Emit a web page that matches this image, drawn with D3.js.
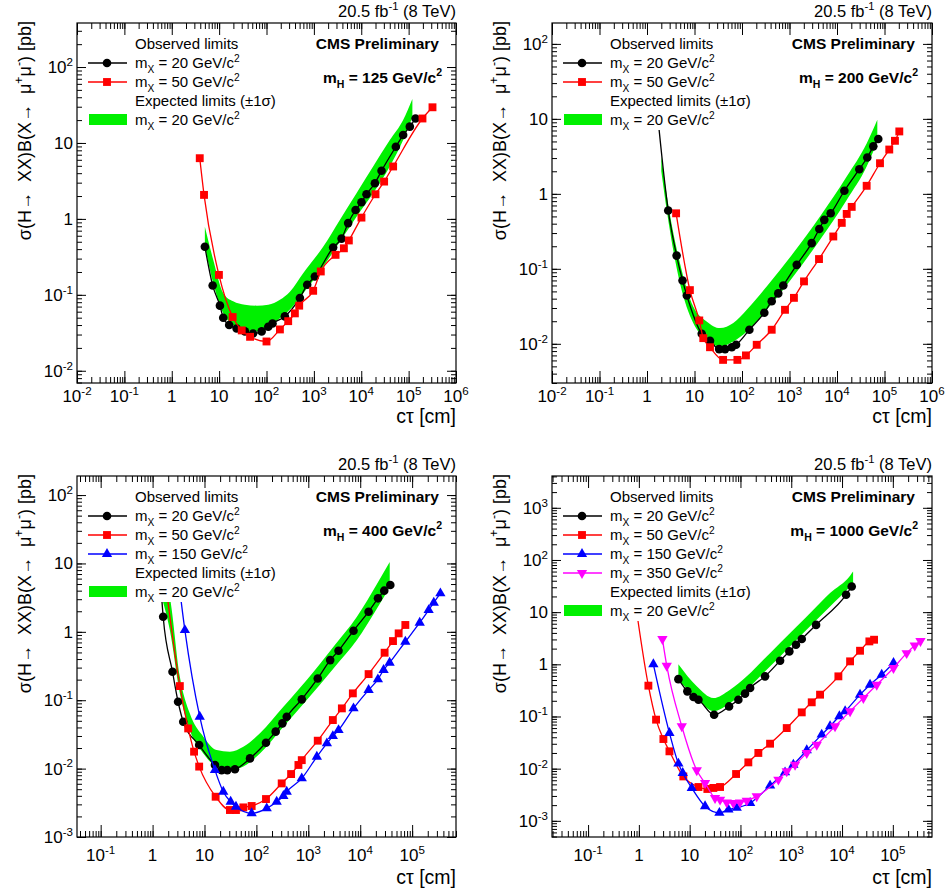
<!DOCTYPE html>
<html>
<head>
<meta charset="utf-8">
<script src="https://cdn.jsdelivr.net/npm/d3@7"></script>
<style>
body { margin: 0; background: #fff; }
svg { display: block; }
text { font-family: "Liberation Sans", Arial, Helvetica, sans-serif; fill: #000; white-space: pre; }
</style>
</head>
<body>
<div id="chart"></div>
<script>
// ---- data (ctau in cm, limit in pb) ----
// mH = 125
var h125m20X = [5.0, 7.3, 10.4, 12.2, 16.3, 23.4, 35, 52, 79, 109, 134, 244, 507, 723, 1050, 2550, 3840, 5290, 7590, 10100, 12900, 19400, 26800, 53700, 76600, 106000, 140000];
var h125m20Y = [0.43, 0.133, 0.072, 0.050, 0.040, 0.036, 0.033, 0.031, 0.033, 0.038, 0.042, 0.052, 0.091, 0.136, 0.174, 0.42, 0.55, 0.88, 1.31, 1.66, 2.11, 2.95, 4.3, 8.9, 12.7, 16.4, 21];
var h125m50X = [3.9, 4.8, 9.9, 19.3, 30, 45, 100, 192, 287, 397, 490, 966, 1400, 2870, 4300, 5470, 10100, 20000, 30400, 47100, 196000, 319000];
var h125m50Y = [6.3, 2.07, 0.183, 0.051, 0.034, 0.028, 0.0243, 0.035, 0.045, 0.057, 0.072, 0.113, 0.203, 0.336, 0.41, 0.52, 1.04, 2.11, 3.1, 4.9, 21, 29.5];
var h125BandX = [5.0, 7.5, 12.2, 19.8, 35, 62, 109, 192, 312, 594, 1570, 3530, 7940, 17800, 40100, 76600, 120000];
var h125BandHi = [0.79, 0.29, 0.105, 0.082, 0.074, 0.072, 0.074, 0.086, 0.110, 0.193, 0.43, 0.97, 2.18, 4.9, 10.9, 20.1, 38];
var h125BandLo = [0.43, 0.143, 0.057, 0.040, 0.033, 0.033, 0.038, 0.049, 0.064, 0.105, 0.235, 0.50, 1.07, 2.18, 4.9, 10.9, 22];

// mH = 200
var h200m20X = [1.6, 2.8, 4.2, 5.6, 6.9, 14.2, 21.2, 33, 44, 61, 75, 143, 295, 422, 580, 740, 1420, 2930, 4240, 5400, 7360, 14300, 29500, 43400, 58100, 74000];
var h200m20Y = [15, 0.60, 0.150, 0.070, 0.044, 0.0136, 0.011, 0.0085, 0.0085, 0.0090, 0.0097, 0.0154, 0.026, 0.037, 0.047, 0.060, 0.113, 0.22, 0.34, 0.45, 0.55, 1.10, 2.13, 3.05, 4.3, 5.4];
var h200m50X = [4.1, 8.0, 12.6, 15.3, 21.2, 40, 80, 121, 204, 422, 804, 1240, 2020, 4180, 8360, 12600, 16000, 20400, 42100, 80400, 126000, 166000, 205000];
var h200m50Y = [0.55, 0.052, 0.0205, 0.0119, 0.0090, 0.0061, 0.0061, 0.0070, 0.0097, 0.0154, 0.0284, 0.041, 0.068, 0.135, 0.27, 0.41, 0.54, 0.67, 1.28, 2.56, 3.9, 5.1, 6.8];
var h200BandX = [2.0, 2.6, 4.95, 9.4, 18, 34.4, 65.6, 126, 331, 1200, 4390, 16000, 42100, 70600];
var h200BandHi = [3.2, 0.97, 0.119, 0.0315, 0.0199, 0.0162, 0.0189, 0.0284, 0.058, 0.162, 0.50, 1.70, 4.7, 9.7];
var h200BandLo = [2.0, 0.61, 0.064, 0.0189, 0.0113, 0.0092, 0.0107, 0.0146, 0.0284, 0.079, 0.244, 0.83, 2.31, 5.0];

// mH = 400
var h400m20X = [1.35, 1.6, 2.42, 3.1, 3.9, 7.9, 15.9, 21.4, 27.5, 38.6, 75.3, 153, 235, 317, 384, 748, 1520, 2640, 3820, 7430, 14500, 22000, 29000, 38000];
var h400m20Y = [10, 1.66, 0.261, 0.095, 0.0485, 0.0221, 0.0113, 0.0095, 0.0095, 0.0098, 0.0141, 0.0239, 0.0347, 0.0459, 0.0574, 0.103, 0.208, 0.386, 0.53, 1.04, 1.97, 3.09, 4.0, 4.83];
var h400m50X = [1.6, 3.35, 4.85, 6.3, 7.9, 16.4, 30.9, 40.4, 56, 81, 153, 307, 466, 645, 748, 1520, 2970, 4430, 7210, 14500, 29500, 42800, 55000, 74000];
var h400m50Y = [10, 0.161, 0.0387, 0.0177, 0.0107, 0.00388, 0.00248, 0.00248, 0.00271, 0.00284, 0.00359, 0.00608, 0.00833, 0.0113, 0.0133, 0.0256, 0.0513, 0.076, 0.126, 0.241, 0.495, 0.733, 0.95, 1.26];
var h400m150X = [2.9, 4.19, 8.1, 15.9, 23, 31.9, 40.4, 81, 158, 246, 331, 384, 748, 1460, 2280, 2970, 3820, 7430, 14500, 21900, 28200, 36800, 74000, 140000, 208000, 261000, 350000];
var h400m150Y = [10, 1.06, 0.0574, 0.0095, 0.0046, 0.00328, 0.00277, 0.00222, 0.00262, 0.00328, 0.00397, 0.0046, 0.0072, 0.0149, 0.0234, 0.0299, 0.0366, 0.076, 0.141, 0.202, 0.276, 0.353, 0.716, 1.36, 2.08, 2.67, 3.65];
var h400BandX = [1.45, 2.15, 3.35, 5.2, 9.5, 17.1, 30.9, 56, 117, 331, 933, 3050, 8630, 21000, 37000];
var h400BandHi = [10, 3.26, 0.221, 0.0643, 0.0293, 0.0187, 0.0177, 0.0209, 0.0328, 0.080, 0.197, 0.605, 1.66, 5.0, 10.5];
var h400BandLo = [3.5, 1.06, 0.126, 0.0366, 0.0167, 0.0107, 0.0095, 0.0107, 0.0167, 0.041, 0.101, 0.292, 0.76, 2.2, 4.5];

// mH = 1000
var h1000m20X = [6.0, 9.0, 11.9, 14.9, 30.3, 59.7, 91, 123, 155, 305, 603, 918, 1240, 1610, 3080, 12000, 15500];
var h1000m20Y = [0.52, 0.303, 0.236, 0.21, 0.108, 0.156, 0.21, 0.274, 0.352, 0.588, 1.17, 1.77, 2.38, 3.05, 5.7, 21.5, 31];
var h1000m50X = [0.82, 1.54, 2.18, 3.04, 4.0, 7.5, 14.9, 22.3, 29.3, 39.7, 82, 143, 225, 383, 815, 1610, 2530, 3690, 8470, 14400, 22600, 34500, 42700];
var h1000m50Y = [20, 0.39, 0.087, 0.037, 0.0215, 0.0071, 0.00445, 0.00408, 0.00427, 0.00445, 0.0079, 0.0132, 0.020, 0.0301, 0.060, 0.12, 0.187, 0.262, 0.588, 1.14, 1.82, 2.75, 2.96];
var h1000m150X = [1.93, 4.0, 6.0, 7.3, 11.0, 20.1, 38.5, 58, 84.5, 155, 383, 755, 1100, 2020, 3980, 5810, 8870, 11500, 22600, 35600, 60400, 103000];
var h1000m150Y = [1.0, 0.0483, 0.0125, 0.00826, 0.00427, 0.0019, 0.00142, 0.00164, 0.00177, 0.0022, 0.00473, 0.0085, 0.0119, 0.0225, 0.0449, 0.0648, 0.101, 0.126, 0.262, 0.407, 0.633, 1.06];
var h1000m350X = [2.91, 3.54, 7.0, 13.8, 20.1, 31.6, 39.7, 53.7, 72.6, 98, 133, 209, 558, 815, 1190, 2020, 3180, 7280, 14400, 26300, 48200, 103000, 187000, 270000, 350000];
var h1000m350Y = [3.05, 0.94, 0.065, 0.0093, 0.0053, 0.00274, 0.00255, 0.00226, 0.0022, 0.00226, 0.00244, 0.00295, 0.00616, 0.0089, 0.0119, 0.020, 0.0288, 0.065, 0.126, 0.226, 0.407, 0.85, 1.64, 2.3, 2.8];
var h1000BandX = [6.0, 13.8, 29.3, 62.4, 133, 283, 603, 1280, 2730, 5810, 14400, 16500];
var h1000BandHi = [1.0, 0.379, 0.226, 0.327, 0.588, 1.22, 2.56, 5.3, 11.1, 23.2, 50, 60];
var h1000BandLo = [0.5, 0.226, 0.126, 0.181, 0.327, 0.68, 1.42, 2.96, 6.2, 12.9, 31, 36];

// tick label exponents
var xExpWide = [-2, -1, 0, 1, 2, 3, 4, 5, 6];
var xExpNarrow = [-1, 0, 1, 2, 3, 4, 5];
var yExp125 = [-2, -1, 0, 1, 2];
var yExp400 = [-3, -2, -1, 0, 1, 2];
var yExp1000 = [-3, -2, -1, 0, 1, 2, 3];

var mxLabels = { m20: "20", m50: "50", m150: "150", m350: "350" };

// ---- styles ----
var styles = {
  m20: { color: "#000000", sym: d3.symbolCircle, size: 58, rot: 0 },
  m50: { color: "#ff0000", sym: d3.symbolSquare, size: 62, rot: 0 },
  m150: { color: "#0000ff", sym: d3.symbolTriangle, size: 46, rot: 0 },
  m350: { color: "#ff00ff", sym: d3.symbolTriangle, size: 46, rot: 180 }
};
var bandColor = "#00f000";

var panels = [
  { left: 77, right: 456, top: 23, bottom: 383, xDom: [0.01, 1e6], yDom: [0.0069, 380],
    xExp: xExpWide, yExp: yExp125, mH: "125", labOff: 19, titleOff: 40,
    band: [h125BandX, h125BandLo, h125BandHi],
    series: [["m20", h125m20X, h125m20Y], ["m50", h125m50X, h125m50Y]] },
  { left: 552, right: 932, top: 23, bottom: 383, xDom: [0.01, 1e6], yDom: [0.003, 190],
    xExp: xExpWide, yExp: yExp125, mH: "200", labOff: 19, titleOff: 40,
    band: [h200BandX, h200BandLo, h200BandHi],
    series: [["m20", h200m20X, h200m20Y], ["m50", h200m50X, h200m50Y]] },
  { left: 77, right: 456, top: 476, bottom: 837, xDom: [0.035, 7e5], yDom: [0.001, 190],
    xExp: xExpNarrow, yExp: yExp400, mH: "400", labOff: 24, titleOff: 47,
    band: [h400BandX, h400BandLo, h400BandHi],
    series: [["m20", h400m20X, h400m20Y], ["m50", h400m50X, h400m50Y], ["m150", h400m150X, h400m150Y]] },
  { left: 552, right: 932, top: 476, bottom: 837, xDom: [0.0195, 5.9e5], yDom: [0.00049, 4070],
    xExp: xExpNarrow, yExp: yExp1000, mH: "1000", labOff: 24, titleOff: 47,
    band: [h1000BandX, h1000BandLo, h1000BandHi],
    series: [["m20", h1000m20X, h1000m20Y], ["m50", h1000m50X, h1000m50Y], ["m150", h1000m150X, h1000m150Y], ["m350", h1000m350X, h1000m350Y]] }
];

var svg = d3.select("#chart").append("svg").attr("width", 946).attr("height", 890);

// text with sub/superscripts: parts = [[string, "n"|"sup"|"sub"], ...]
function rich(parent, parts, size, anchor, weight) {
  var t = parent.append("text").attr("font-size", size).attr("text-anchor", anchor || "start");
  if (weight) t.attr("font-weight", weight);
  var off = 0;
  parts.forEach(function(p) {
    var m = p[1] || "n";
    var target = m === "sup" ? -0.42 * size : m === "sub" ? 0.3 * size : 0;
    t.append("tspan")
      .attr("dy", target - off)
      .attr("font-size", m === "n" ? size : size * 0.68)
      .text(p[0]);
    off = target;
  });
  return t;
}

function powLabel(e) {
  if (e === 0) return [["1"]];
  if (e === 1) return [["10"]];
  return [["10"], [String(e), "sup"]];
}

function isDecade(v) {
  var l = Math.log10(v);
  return Math.abs(l - Math.round(l)) < 1e-6;
}

panels.forEach(function(p, pi) {
  var g = svg.append("g");
  var x = d3.scaleLog().domain(p.xDom).range([p.left, p.right]);
  var y = d3.scaleLog().domain(p.yDom).range([p.bottom, p.top]);

  var clipId = "clip" + pi;
  svg.append("clipPath").attr("id", clipId)
    .append("rect")
    .attr("x", p.left).attr("y", p.top)
    .attr("width", p.right - p.left).attr("height", p.bottom - p.top);

  var plot = g.append("g").attr("clip-path", "url(#" + clipId + ")");

  // expected +-1 sigma band
  var bx = p.band[0], blo = p.band[1], bhi = p.band[2];
  var area = d3.area()
    .x(function(d, i) { return x(bx[i]); })
    .y0(function(d, i) { return y(blo[i]); })
    .y1(function(d, i) { return y(bhi[i]); })
    .curve(d3.curveMonotoneX);
  plot.append("path").datum(bx).attr("d", area).attr("fill", bandColor);

  // observed limits
  p.series.forEach(function(s) {
    var st = styles[s[0]], xs = s[1], ys = s[2];
    var pts = xs.map(function(v, i) { return [x(v), y(ys[i])]; });
    var line = d3.line().curve(d3.curveMonotoneX);
    plot.append("path").attr("d", line(pts))
      .attr("fill", "none").attr("stroke", st.color).attr("stroke-width", 1.3);
    plot.selectAll(null).data(pts).enter().append("path")
      .attr("d", d3.symbol().type(st.sym).size(st.size))
      .attr("transform", function(d) { return "translate(" + d[0] + "," + d[1] + ") rotate(" + st.rot + ")"; })
      .attr("fill", st.color);
  });

  // legend
  var keys = p.series.map(function(s) { return s[0]; });
  var rows = [["head", "Observed limits"]];
  keys.forEach(function(k) { rows.push(["ser", k]); });
  rows.push(["head", "Expected limits (\u00b11\u03c3)"]);
  rows.push(["band", "m20"]);
  var rowY = function(i) { return p.top + 21 + i * 19; };

  g.append("rect")
    .attr("x", p.left + 8).attr("y", p.top + 10)
    .attr("width", 198).attr("height", (rows.length - 1) * 19 + 21)
    .attr("fill", "#fff");

  rows.forEach(function(r, i) {
    var cy = rowY(i);
    var tx = p.left + 58;
    if (r[0] === "head") {
      rich(g, [[r[1]]], 15).attr("x", tx).attr("y", cy + 5);
      return;
    }
    if (r[0] === "ser") {
      var st = styles[r[1]];
      g.append("line").attr("x1", p.left + 11).attr("x2", p.left + 50)
        .attr("y1", cy).attr("y2", cy).attr("stroke", st.color).attr("stroke-width", 1.3);
      g.append("path").attr("d", d3.symbol().type(st.sym).size(st.size))
        .attr("transform", "translate(" + (p.left + 30) + "," + cy + ") rotate(" + st.rot + ")")
        .attr("fill", st.color);
    } else {
      g.append("rect").attr("x", p.left + 12).attr("y", cy - 6)
        .attr("width", 38).attr("height", 11).attr("fill", bandColor);
    }
    rich(g, [["m"], ["X", "sub"], [" = " + mxLabels[r[1]] + " GeV/c"], ["2", "sup"]], 15)
      .attr("x", tx).attr("y", cy + 5);
  });

  // axes: minor + major ticks on all four sides, pointing inward
  var xt = x.ticks(40), yt = y.ticks(40);
  var xMaj = xt.filter(isDecade), yMaj = yt.filter(isDecade);
  function ax(gen, vals, len, tr) {
    var a = g.append("g").attr("transform", tr)
      .call(gen.tickValues(vals).tickSize(-len).tickSizeOuter(0).tickFormat(""));
    a.select(".domain").remove();
  }
  ax(d3.axisBottom(x), xt, 6, "translate(0," + p.bottom + ")");
  ax(d3.axisBottom(x), xMaj, 12, "translate(0," + p.bottom + ")");
  ax(d3.axisTop(x), xt, 6, "translate(0," + p.top + ")");
  ax(d3.axisTop(x), xMaj, 12, "translate(0," + p.top + ")");
  ax(d3.axisLeft(y), yt, 5, "translate(" + p.left + ",0)");
  ax(d3.axisLeft(y), yMaj, 9, "translate(" + p.left + ",0)");
  ax(d3.axisRight(y), yt, 5, "translate(" + p.right + ",0)");
  ax(d3.axisRight(y), yMaj, 9, "translate(" + p.right + ",0)");

  g.append("rect")
    .attr("x", p.left).attr("y", p.top)
    .attr("width", p.right - p.left).attr("height", p.bottom - p.top)
    .attr("fill", "none").attr("stroke", "#000").attr("stroke-width", 1.2);

  // tick labels
  p.xExp.forEach(function(e) {
    rich(g, powLabel(e), 17, "middle")
      .attr("x", x(Math.pow(10, e))).attr("y", p.bottom + p.labOff);
  });
  p.yExp.forEach(function(e) {
    rich(g, powLabel(e), 17, "end")
      .attr("x", p.left - 4).attr("y", y(Math.pow(10, e)) + 6);
  });

  // axis titles
  rich(g, [["c\u03c4 [cm]"]], 19.5, "end")
    .attr("x", p.right).attr("y", p.bottom + p.titleOff);
  rich(g, [["\u03c3(H\u2192\u00a0 XX)B(X\u2192\u00a0 \u03bc"], ["+", "sup"], ["\u03bc"], ["-", "sup"], [") [pb]"]], 18, "end")
    .attr("transform", "translate(" + (p.left - 46) + "," + (p.top - 2) + ") rotate(-90)");

  // annotations
  rich(g, [["20.5 fb"], ["-1", "sup"], [" (8 TeV)"]], 16.5, "end")
    .attr("x", p.right).attr("y", p.top - 6);
  rich(g, [["CMS Preliminary"]], 15.5, "end", "bold")
    .attr("x", p.right - 17).attr("y", p.top + 26);
  rich(g, [["m"], ["H", "sub"], [" = " + p.mH + " GeV/c"], ["2", "sup"]], 15.5, "end", "bold")
    .attr("x", p.right - 14).attr("y", p.top + 60);
});
</script>
</body>
</html>
